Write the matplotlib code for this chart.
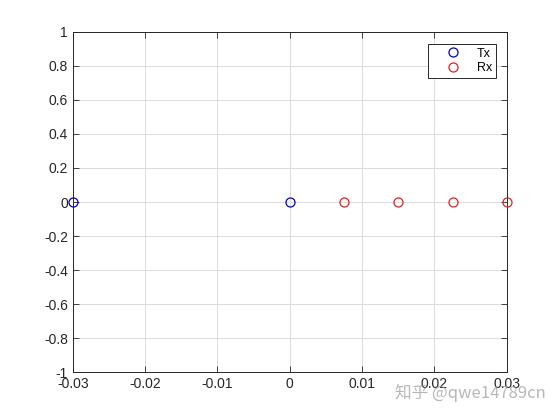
import matplotlib
matplotlib.use('Agg')
from matplotlib import pyplot as plt
import numpy as np

tx_x = [-0.03, 0.0]
tx_y = [0, 0]
rx_x = [0.0075, 0.015, 0.0225, 0.03]
rx_y = [0, 0, 0, 0]
xticks = [-0.03, -0.02, -0.01, 0, 0.01, 0.02, 0.03]
yticks = [-1, -0.8, -0.6, -0.4, -0.2, 0, 0.2, 0.4, 0.6, 0.8, 1]

plt.rcParams['font.family'] = ['Liberation Sans', 'DejaVu Sans']
fig = plt.figure(figsize=(5.6, 4.2), dpi=100)
ax = fig.add_axes([0.130, 0.114, 0.775, 0.810])

ax.plot(tx_x, tx_y, 'o', mfc='none', mec='#0000cc', ms=6.5, mew=0.9, label='Tx', clip_on=False, zorder=5)
ax.plot(rx_x, rx_y, 'o', mfc='none', mec='#dd2222', ms=6.5, mew=0.9, label='Rx', clip_on=False, zorder=5)

ax.set_xlim(-0.03, 0.03)
ax.set_ylim(-1, 1)
ax.set_xticks(xticks)
ax.set_yticks(yticks)
ax.set_xticklabels(['-0.03', '-0.02', '-0.01', '0', '0.01', '0.02', '0.03'])
ax.set_yticklabels(['-1', '-0.8', '-0.6', '-0.4', '-0.2', '0', '0.2', '0.4', '0.6', '0.8', '1'])
ax.grid(True, color='#dcdcdc', linewidth=0.7)
ax.set_axisbelow(True)
ax.tick_params(direction='in', top=True, right=True, length=4, width=0.6, labelsize=10, colors='#262626')
for s in ax.spines.values():
    s.set_linewidth(0.7)
    s.set_color('#262626')

leg = ax.legend(loc='upper right', bbox_to_anchor=(0.9747, 0.965), borderaxespad=0, fontsize=9,
                fancybox=False, framealpha=1, edgecolor='#262626', handlelength=3.4,
                handletextpad=0.2, borderpad=0.3, labelspacing=0.2)
leg.get_frame().set_linewidth(0.7)

fig.text(0.705, 0.065, '知乎 @qwe14789cn', fontsize=12, color='#999999', alpha=0.7,
         family=['Noto Sans CJK SC', 'DejaVu Sans'], va='center')

fig.savefig('out.png', dpi=100, facecolor='white')
